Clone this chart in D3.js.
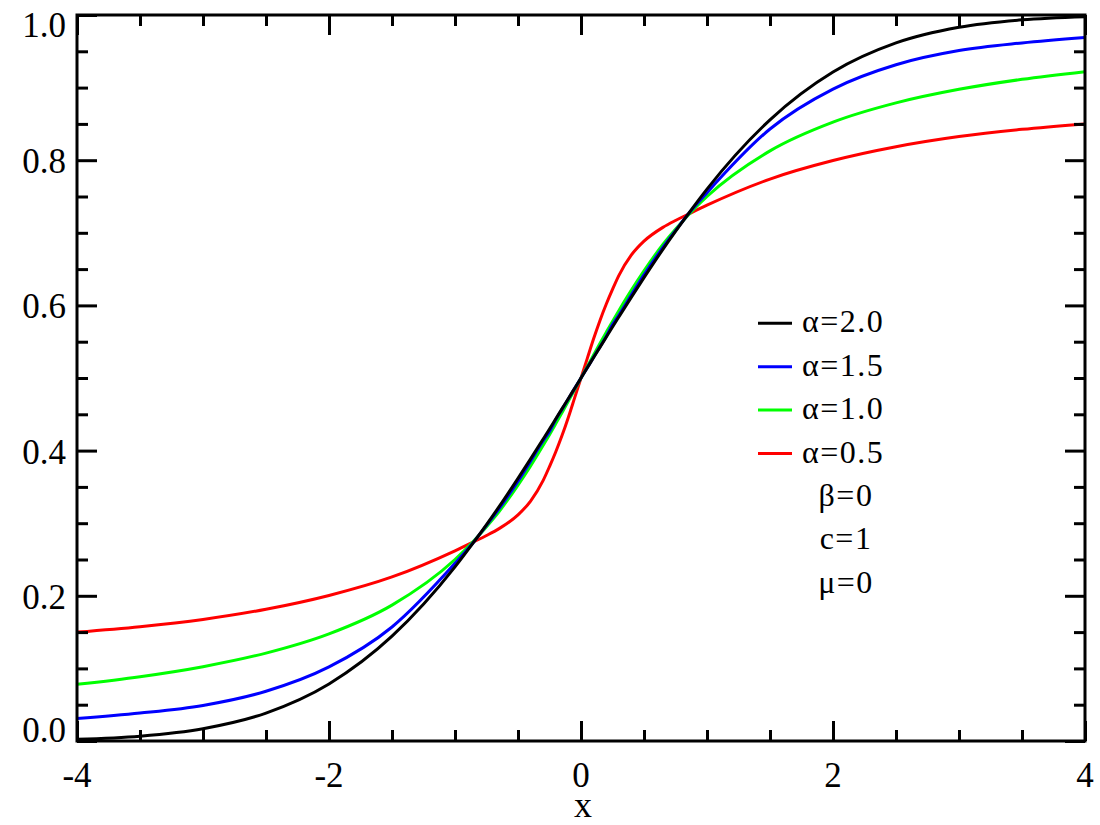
<!DOCTYPE html>
<html>
<head>
<meta charset="utf-8">
<script src="https://cdn.jsdelivr.net/npm/d3@7"></script>
<style>
  html, body { margin: 0; padding: 0; background: #ffffff; }
  svg { display: block; }
</style>
</head>
<body>
<svg id="chart" width="1100" height="825"></svg>
<script>
// ---- data ----
const xValues = [-4,-3.5,-3,-2.5,-2,-1.5,-1,-0.85,-0.75,-0.65,-0.5,-0.4,-0.3,-0.25,-0.2,-0.15,-0.1,-0.05,0,0.05,0.1,0.15,0.2,0.25,0.3,0.4,0.5,0.65,0.75,0.85,1,1.5,2,2.5,3,3.5,4];
const alpha20 = [0.0023,0.0067,0.0170,0.0385,0.0786,0.1444,0.2398,0.2742,0.2981,0.3228,0.3618,0.3886,0.4160,0.4298,0.4438,0.4578,0.4718,0.4859,0.5,0.5141,0.5282,0.5422,0.5562,0.5702,0.5840,0.6114,0.6382,0.6772,0.7019,0.7258,0.7602,0.8556,0.9214,0.9615,0.9830,0.9933,0.9977];
const alpha15 = [0.031,0.0385,0.049,0.0685,0.102,0.157,0.2447,0.2745,0.297,0.320,0.358,0.3855,0.4135,0.4265,0.4428,0.4571,0.4714,0.4857,0.5,0.5143,0.5286,0.5429,0.5572,0.5735,0.5865,0.6145,0.642,0.680,0.703,0.7255,0.7553,0.843,0.898,0.9315,0.951,0.9615,0.969];
const alpha10 = [0.078,0.0886,0.1024,0.1211,0.1476,0.1872,0.25,0.2757,0.2952,0.3161,0.3524,0.3789,0.4073,0.422,0.4372,0.4526,0.4683,0.4841,0.5,0.5159,0.5317,0.5474,0.5628,0.578,0.5927,0.6211,0.6476,0.6839,0.7048,0.7243,0.75,0.8128,0.8524,0.8789,0.8976,0.9114,0.922];
const alpha05 = [0.150,0.1575,0.1675,0.1815,0.2005,0.226,0.262,0.2745,0.283,0.2925,0.3115,0.3305,0.359,0.378,0.3985,0.421,0.446,0.473,0.5,0.527,0.554,0.579,0.6015,0.622,0.641,0.6695,0.6885,0.7075,0.717,0.7255,0.738,0.774,0.7995,0.8185,0.8325,0.8425,0.850];

const seriesNames = ["\u03B1=2.0", "\u03B1=1.5", "\u03B1=1.0", "\u03B1=0.5"];
const seriesColors = ["#000000", "#0000ff", "#00ff00", "#ff0000"];
const seriesValues = [alpha20, alpha15, alpha10, alpha05];
const paramLabels = ["\u03B2=0", "c=1", "\u03BC=0"];

const xMajorTicks = [-4, -2, 0, 2, 4];
const xMajorLabels = ["-4", "-2", "0", "2", "4"];
const xMinorTicks = [-3.5,-3,-2.5,-1.5,-1,-0.5,0.5,1,1.5,2.5,3,3.5];
const yMajorTicks = [0.0, 0.2, 0.4, 0.6, 0.8, 1.0];
const yMajorLabels = ["0.0", "0.2", "0.4", "0.6", "0.8", "1.0"];
const yMinorTicks = [0.05,0.1,0.15,0.25,0.3,0.35,0.45,0.5,0.55,0.65,0.7,0.75,0.85,0.9,0.95];
const xTitle = "x";

const FONT = "'Liberation Serif', 'Times New Roman', Times, 'DejaVu Serif', serif";

// ---- layout ----
const L = 77, R = 1085, T = 15, B = 741;
const svg = d3.select("#chart");
svg.append("rect").attr("width", 1100).attr("height", 825).attr("fill", "#fff");

const x = d3.scaleLinear().domain([-4, 4]).range([L, R]);
const y = d3.scaleLinear().domain([0, 1]).range([B, T]);

const line = d3.line()
  .x(d => x(d[0]))
  .y(d => y(d[1]))
  .curve(d3.curveMonotoneX);

[3, 2, 1, 0].forEach(i => {
  const pts = xValues.map((xv, k) => [xv, seriesValues[i][k]]);
  svg.append("path")
    .datum(pts)
    .attr("fill", "none")
    .attr("stroke", seriesColors[i])
    .attr("stroke-width", 3)
    .attr("stroke-linejoin", "round")
    .attr("d", line);
});

// axes (inward ticks)
function styleAxis(g) {
  g.select(".domain").remove();
  g.selectAll(".tick line").attr("stroke", "#000").attr("stroke-width", 3);
  g.selectAll(".tick text").remove();
}
const axisDefs = [
  [d3.axisBottom(x), `translate(0,${B})`, xMajorTicks, xMinorTicks],
  [d3.axisTop(x), `translate(0,${T})`, xMajorTicks, xMinorTicks],
  [d3.axisLeft(y), `translate(${L},0)`, yMajorTicks, yMinorTicks],
  [d3.axisRight(y), `translate(${R},0)`, yMajorTicks, yMinorTicks]
];
axisDefs.forEach(([ax, tr, maj, min]) => {
  svg.append("g").attr("transform", tr).call(ax.tickValues(maj).tickSize(-20)).call(styleAxis);
  svg.append("g").attr("transform", tr).call(ax.tickValues(min).tickSize(-11)).call(styleAxis);
});

// frame
svg.append("rect")
  .attr("x", L).attr("y", T).attr("width", R - L).attr("height", B - T)
  .attr("fill", "none").attr("stroke", "#000").attr("stroke-width", 3);

// tick labels
svg.append("g").selectAll("text").data(xMajorTicks).join("text")
  .attr("x", d => x(d))
  .attr("y", 787)
  .attr("text-anchor", "middle")
  .attr("font-family", FONT)
  .attr("font-size", 35)
  .text((d, i) => xMajorLabels[i]);

svg.append("g").selectAll("text").data(yMajorTicks).join("text")
  .attr("x", 66)
  .attr("y", d => Math.min(Math.max(y(d) + 13, T + 22), B + 1))
  .attr("text-anchor", "end")
  .attr("font-family", FONT)
  .attr("font-size", 35)
  .text((d, i) => yMajorLabels[i]);

// x title
svg.append("text")
  .attr("x", x(0) + 2)
  .attr("y", 817)
  .attr("text-anchor", "middle")
  .attr("font-family", FONT)
  .attr("font-size", 36)
  .text(xTitle);

// legend
const lg = svg.append("g");
seriesNames.forEach((name, i) => {
  const cy = 323.3 + i * 43.4;
  lg.append("line")
    .attr("x1", 758).attr("x2", 792)
    .attr("y1", cy).attr("y2", cy)
    .attr("stroke", seriesColors[i]).attr("stroke-width", 3);
  lg.append("text")
    .attr("x", 802).attr("y", cy + 9)
    .attr("font-family", FONT)
    .attr("font-size", 32)
    .attr("letter-spacing", 1.5)
    .text(name);
});
paramLabels.forEach((p, j) => {
  lg.append("text")
    .attr("x", 846).attr("y", 506 + j * 43.4)
    .attr("text-anchor", "middle")
    .attr("font-family", FONT)
    .attr("font-size", 32)
    .attr("letter-spacing", 1.5)
    .text(p);
});
</script>
</body>
</html>
